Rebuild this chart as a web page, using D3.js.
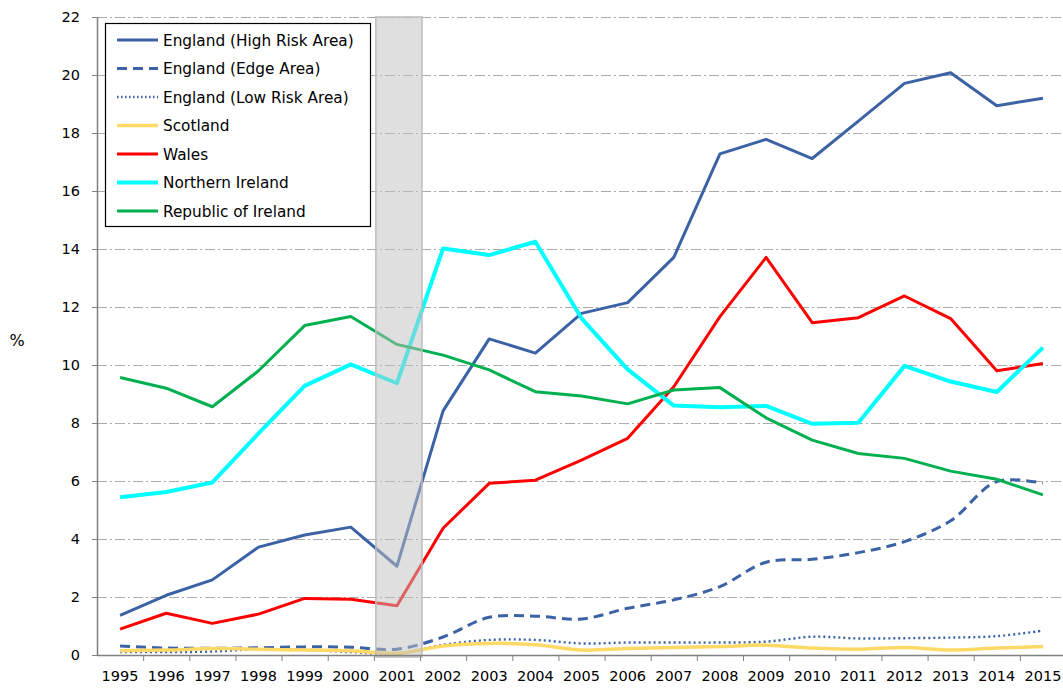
<!DOCTYPE html>
<html>
<meta charset="utf-8">
<head>
  <title>Line chart</title>
</head>
<style>
body { margin: 0; background: white; }
text { font-family: "DejaVu Sans", sans-serif; fill: #000; }
.grid line { stroke: #ababab; stroke-dasharray: 10,3,2,3; }
</style>
<body>
  <div id="chart"></div>
  <script src="https://d3js.org/d3.v7.min.js"></script>
  <script>

var years = ['1995','1996','1997','1998','1999','2000','2001','2002','2003','2004','2005',
  '2006','2007','2008','2009','2010','2011','2012','2013','2014','2015'];

var yTicks = [0, 2, 4, 6, 8, 10, 12, 14, 16, 18, 20, 22];

var englandHigh = [1.37, 2.06, 2.59, 3.72, 4.14, 4.41, 3.06, 8.42, 10.9, 10.41, 11.78,
  12.15, 13.71, 17.28, 17.78, 17.12, 18.41, 19.71, 20.08, 18.94, 19.2];
var englandEdge = [0.31, 0.24, 0.23, 0.25, 0.28, 0.27, 0.2, 0.62, 1.3, 1.34, 1.24,
  1.61, 1.9, 2.36, 3.2, 3.3, 3.53, 3.91, 4.63, 5.98, 5.92];
var englandLow = [0.1, 0.1, 0.12, 0.2, 0.18, 0.1, 0.05, 0.35, 0.52, 0.52, 0.4,
  0.43, 0.43, 0.43, 0.46, 0.63, 0.57, 0.58, 0.6, 0.65, 0.84];
var scotland = [0.15, 0.17, 0.22, 0.2, 0.17, 0.15, 0.06, 0.31, 0.4, 0.35, 0.17,
  0.22, 0.26, 0.29, 0.34, 0.24, 0.2, 0.26, 0.17, 0.24, 0.29];
var wales = [0.89, 1.44, 1.09, 1.41, 1.95, 1.92, 1.7, 4.37, 5.92, 6.03, 6.72,
  7.47, 9.25, 11.67, 13.71, 11.46, 11.63, 12.38, 11.6, 9.8, 10.05];
var northernIreland = [5.44, 5.62, 5.95, 7.64, 9.28, 10.02, 9.37, 14.02, 13.79, 14.25, 11.61,
  9.85, 8.6, 8.54, 8.59, 7.97, 8.01, 9.97, 9.43, 9.07, 10.6];
var republicIreland = [9.57, 9.2, 8.56, 9.8, 11.36, 11.67, 10.71, 10.34, 9.83, 9.08, 8.93,
  8.66, 9.14, 9.22, 8.18, 7.41, 6.95, 6.78, 6.34, 6.06, 5.52];

var shadedYear = '2001';

var series = [
  {name: 'England (High Risk Area)', values: englandHigh, color: '#3c62a6', width: 3, dash: null, smooth: false},
  {name: 'England (Edge Area)', values: englandEdge, color: '#3c62a6', width: 3, dash: '10,6', smooth: true},
  {name: 'England (Low Risk Area)', values: englandLow, color: '#3c62a6', width: 2.4, dash: '2,3', smooth: true},
  {name: 'Scotland', values: scotland, color: '#ffd966', width: 3.5, dash: null, smooth: true},
  {name: 'Wales', values: wales, color: '#ff0000', width: 3, dash: null, smooth: false},
  {name: 'Northern Ireland', values: northernIreland, color: '#00ffff', width: 4, dash: null, smooth: false},
  {name: 'Republic of Ireland', values: republicIreland, color: '#00b050', width: 3, dash: null, smooth: false}
];

var W = 1063, H = 689;
var margin = {top: 17, left: 97, bottom: 34};
var plotW = 969, plotH = H - margin.top - margin.bottom;

var svg = d3.select('#chart').append('svg')
  .attr('width', W).attr('height', H);

var x = d3.scaleBand().domain(years).range([margin.left, margin.left + plotW]);
var y = d3.scaleLinear().domain([0, 22]).range([margin.top + plotH, margin.top]);

// gridlines
svg.append('g').attr('class', 'grid')
  .selectAll('line')
  .data(yTicks.filter(function(d) { return d > 0; }))
  .join('line')
  .attr('x1', margin.left).attr('x2', W)
  .attr('y1', function(d) { return y(d) + 0.5; })
  .attr('y2', function(d) { return y(d) + 0.5; });

// lines
series.forEach(function(s) {
  var line = d3.line()
    .x(function(d, i) { return x(years[i]) + x.bandwidth() / 2; })
    .y(function(d) { return y(d); })
    .curve(s.smooth ? d3.curveCatmullRom.alpha(0.5) : d3.curveLinear);
  svg.append('path')
    .datum(s.values)
    .attr('d', line)
    .attr('fill', 'none')
    .attr('stroke', s.color)
    .attr('stroke-width', s.width)
    .attr('stroke-dasharray', s.dash)
    .attr('stroke-linejoin', 'round');
});

// shaded year (drawn over the lines)
svg.append('rect')
  .attr('x', x(shadedYear) + 2)
  .attr('y', margin.top)
  .attr('width', x.bandwidth())
  .attr('height', plotH + 2)
  .attr('fill', '#c0c0c0')
  .attr('fill-opacity', 0.5)
  .attr('stroke', '#bdbdbd')
  .attr('stroke-width', 1.5);

// axes
var yAxis = svg.append('g')
  .attr('transform', 'translate(' + margin.left + ',0)')
  .call(d3.axisLeft(y).tickValues(yTicks).tickSize(5).tickPadding(12));
var xAxis = svg.append('g')
  .attr('transform', 'translate(0,' + (margin.top + plotH) + ')')
  .call(d3.axisBottom(x).tickSize(0).tickPadding(16));

// tick marks on band edges
xAxis.selectAll('.edge')
  .data(years.slice(1))
  .join('line')
  .attr('x1', function(d) { return x(d) + 0.5; })
  .attr('x2', function(d) { return x(d) + 0.5; })
  .attr('y1', 0).attr('y2', 6)
  .attr('stroke', '#808080');

svg.selectAll('.domain').attr('stroke', '#808080').attr('stroke-width', 1.5);
yAxis.selectAll('.tick line').attr('stroke', '#808080');
svg.selectAll('.tick text').style('font-size', '14.5px').attr('fill', '#000');
yAxis.selectAll('.domain').attr('d', 'M0.5,' + margin.top + 'V' + (margin.top + plotH));
xAxis.selectAll('.domain').attr('d', 'M' + margin.left + ',0.5H' + W);

svg.append('text')
  .attr('x', 17).attr('y', 346)
  .attr('text-anchor', 'middle')
  .style('font-size', '16px')
  .text('%');

// legend
var lg = svg.append('g').attr('transform', 'translate(105,23)');
lg.append('rect')
  .attr('x', 0.5).attr('y', 0.5)
  .attr('width', 265).attr('height', 203)
  .attr('fill', 'white')
  .attr('stroke', '#000')
  .attr('stroke-width', 1.2);

var item = lg.selectAll('.item')
  .data(series)
  .join('g')
  .attr('transform', function(d, i) { return 'translate(0,' + (17 + i * 28.5) + ')'; });
item.append('line')
  .attr('x1', 12).attr('x2', 53)
  .attr('stroke', function(d) { return d.color; })
  .attr('stroke-width', function(d) { return d.width; })
  .attr('stroke-dasharray', function(d) { return d.dash === '2,3' ? '1.5,2.5' : d.dash; });
item.append('text')
  .attr('x', 58).attr('dy', '0.36em')
  .style('font-size', '15.3px')
  .text(function(d) { return d.name; });

  </script>
</body>
</html>
